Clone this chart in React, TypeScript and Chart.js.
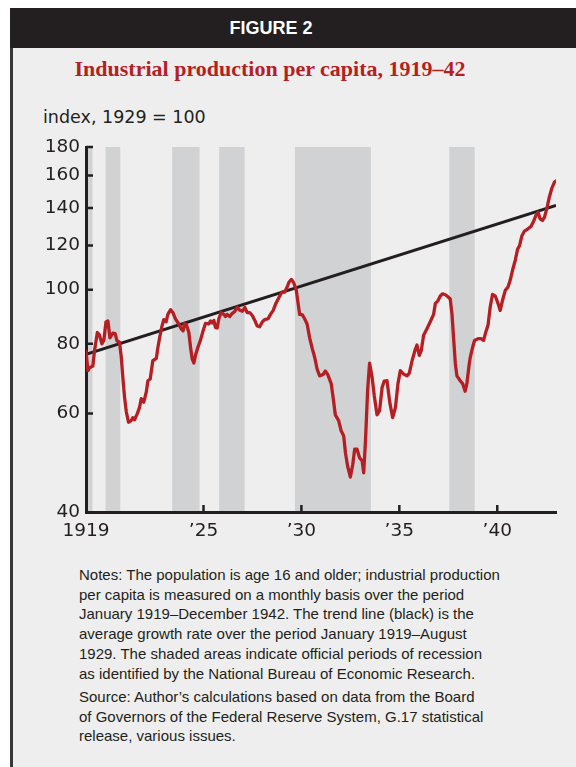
import React, { useEffect, useRef } from 'react';
import { Chart, registerables } from 'chart.js';

Chart.register(...registerables);

// Monthly-ish readings of the red series (decimal year, index 1929 = 100)
const years = [
  1919.0, 1919.1, 1919.18, 1919.35, 1919.44, 1919.58, 1919.69, 1919.81, 1919.91,
  1920.02, 1920.12, 1920.22, 1920.37, 1920.49, 1920.58, 1920.71, 1920.8, 1920.88, 1920.97,
  1921.06, 1921.17, 1921.31, 1921.39, 1921.48, 1921.62, 1921.73, 1921.82, 1921.95,
  1922.08, 1922.16, 1922.28, 1922.41, 1922.59, 1922.67, 1922.76, 1922.87, 1922.97,
  1923.09, 1923.18, 1923.32, 1923.45, 1923.57, 1923.74, 1923.86, 1923.96,
  1924.03, 1924.13, 1924.25, 1924.34, 1924.42, 1924.51, 1924.59, 1924.71, 1924.85, 1924.98,
  1925.1, 1925.27, 1925.36, 1925.44, 1925.53, 1925.61, 1925.7, 1925.78, 1925.9,
  1926.04, 1926.12, 1926.21, 1926.34, 1926.46, 1926.58, 1926.72, 1926.85, 1926.99,
  1927.11, 1927.23, 1927.36, 1927.5, 1927.62, 1927.74, 1927.87,
  1928.01, 1928.13, 1928.3, 1928.42, 1928.56, 1928.69, 1928.86,
  1929.0, 1929.15, 1929.27, 1929.37, 1929.49, 1929.61, 1929.74, 1929.83, 1929.91,
  1930.05, 1930.17, 1930.29, 1930.42, 1930.56, 1930.68, 1930.8, 1930.93,
  1931.11, 1931.22, 1931.34, 1931.52, 1931.62, 1931.73, 1931.9,
  1932.03, 1932.16, 1932.25, 1932.36, 1932.5, 1932.62, 1932.72, 1932.84, 1932.97,
  1933.1, 1933.18, 1933.27, 1933.38, 1933.48, 1933.61, 1933.72, 1933.86, 1933.99,
  1934.12, 1934.23, 1934.37, 1934.51, 1934.66, 1934.8, 1934.93,
  1935.05, 1935.22, 1935.39, 1935.51, 1935.65, 1935.82, 1935.9,
  1936.02, 1936.12, 1936.24, 1936.41, 1936.58, 1936.75, 1936.84, 1936.97,
  1937.09, 1937.21, 1937.35, 1937.48, 1937.6, 1937.69, 1937.77, 1937.86, 1937.94,
  1938.11, 1938.23, 1938.36, 1938.45, 1938.57, 1938.62, 1938.74, 1938.84,
  1939.02, 1939.17, 1939.3, 1939.42, 1939.53, 1939.64, 1939.76, 1939.9,
  1940.04, 1940.15, 1940.27, 1940.41, 1940.55, 1940.66, 1940.78, 1940.92,
  1941.04, 1941.14, 1941.26, 1941.39, 1941.57, 1941.73, 1941.85, 1941.97,
  1942.08, 1942.19, 1942.31, 1942.41, 1942.54, 1942.65, 1942.79, 1942.92, 1942.99,
];

const values = [
  77.5, 71.6, 72.5, 73, 78, 83.8, 82.9, 80, 81.1,
  87.5, 87.9, 82, 83.6, 83.4, 81, 80.5, 75.8, 69.7, 64.1,
  60.4, 57.9, 58.3, 59.0, 58.5, 60.0, 61.5, 63.8, 62.9,
  65.6, 68.7, 69.2, 74.6, 75.3, 78.8, 82, 85.8, 88.4,
  87.6, 90.3, 92.1, 90.8, 88.6, 86.8, 85.1, 84.4,
  87, 86.4, 83.9, 78.8, 75.2, 73.9, 76.3, 78.8, 81.3, 84.4,
  87, 86.8, 87.9, 87.2, 88.1, 85.6, 85.4, 88.6, 91,
  90.3, 89.5, 90.3, 89.5, 90.6, 91.3, 92.9, 91.9, 91.5,
  92.9, 91.0, 91, 89.8, 88.1, 86.1, 85.8,
  87.6, 88.4, 88.7, 90.3, 91.8, 94.4, 96.9,
  99, 99, 101.1, 103.2, 104.3, 102.8, 99.7, 94.5, 90.3,
  90.1, 88.6, 86.8, 82, 78.3, 75.6, 72.1, 70.1,
  70.5, 71.5, 70.5, 67.9, 64.1, 59.7, 58.3,
  55.9, 54.7, 51, 48.3, 46.2, 48.6, 51.8, 51.8, 50,
  49.4, 47.0, 53.5, 66, 73.9, 69.7, 64.6, 59.7, 60.7,
  66.8, 68.6, 68.7, 62.9, 59, 61.5, 67.9,
  71.6, 70.6, 70.1, 70.9, 74.6, 78.3, 79.6,
  76.3, 77.8, 82.9, 85.1, 87.6, 90.3, 94.5, 95.5,
  97.4, 98.3, 97.9, 97.1, 96.2, 90.3, 82, 73.7, 70.1,
  68.7, 67.9, 65.8, 67.9, 73.7, 75.6, 78.8, 81.1,
  81.7, 81.7, 81.1, 84.1, 86.4, 93.1, 98.1, 97.4,
  94.5, 91.8, 95.7, 99.7, 101.1, 103.9, 108.3, 112.9,
  118.2, 119.9, 124.9, 127.3, 128.5, 129.8, 132.4, 135.6,
  137.5, 133.9, 133, 134.7, 140.1, 146, 152, 155.8, 156.4,
];

const trendYears = [1919, 1943];
const trendValues = [76.6, 141.5];

const recessionStarts = [1919.0, 1920.0, 1923.4, 1925.8, 1929.67, 1937.55];
const recessionEnds = [1919.33, 1920.75, 1924.8, 1927.1, 1933.55, 1938.85];

const yTickValues = [40, 60, 80, 100, 120, 140, 160, 180];
const xTickValues = [1919, 1925, 1930, 1935, 1940];
const xTickLabels = ['1919', '\u201925', '\u201930', '\u201935', '\u201940'];

const noteLines = [
  'Notes: The population is age 16 and older; industrial production',
  'per capita is measured on a monthly basis over the period',
  'January 1919\u2013December 1942. The trend line (black) is the',
  'average growth rate over the period January 1919\u2013August',
  '1929. The shaded areas indicate official periods of recession',
  'as identified by the National Bureau of Economic Research.',
];
const sourceLines = [
  'Source: Author\u2019s calculations based on data from the Board',
  'of Governors of the Federal Reserve System, G.17 statistical',
  'release, various issues.',
];

const INK = '#231f20';
const RED = '#b51f24';
const SHADE = '#d1d2d4';
const PANEL = '#eeeeee';

const recessionPlugin = {
  id: 'recessions',
  beforeDraw(chart: any) {
    const { ctx, chartArea, scales } = chart;
    const xs = scales.x;
    ctx.save();
    ctx.fillStyle = SHADE;
    for (let i = 0; i < recessionStarts.length; i++) {
      const a = xs.getPixelForValue(recessionStarts[i]);
      const b = xs.getPixelForValue(recessionEnds[i]);
      ctx.fillRect(a, chartArea.top, b - a, chartArea.bottom - chartArea.top);
    }
    ctx.restore();
  },
};

const innerTicksPlugin = {
  id: 'innerTicks',
  afterDraw(chart: any) {
    const { ctx, chartArea, scales } = chart;
    ctx.save();
    ctx.strokeStyle = INK;
    ctx.lineWidth = 2.5;
    ctx.beginPath();
    for (const v of yTickValues.slice(1)) {
      const py = scales.y.getPixelForValue(v);
      ctx.moveTo(chartArea.left, py);
      ctx.lineTo(chartArea.left + 7, py);
    }
    for (const v of xTickValues.slice(1)) {
      const px = scales.x.getPixelForValue(v);
      ctx.moveTo(px, chartArea.bottom);
      ctx.lineTo(px, chartArea.bottom - 7);
    }
    ctx.stroke();
    ctx.restore();
  },
};

export default function App() {
  const canvasRef = useRef<HTMLCanvasElement | null>(null);

  useEffect(() => {
    const canvas = canvasRef.current;
    if (!canvas) return;
    const chart = new Chart(canvas, {
      type: 'line',
      data: {
        datasets: [
          {
            label: 'Industrial production per capita',
            data: years.map((x, i) => ({ x, y: values[i] })),
            borderColor: RED,
            borderWidth: 3.3,
            pointRadius: 0,
            tension: 0,
            borderJoinStyle: 'round',
            borderCapStyle: 'round',
          },
          {
            label: 'Trend',
            data: trendYears.map((x, i) => ({ x, y: trendValues[i] })),
            borderColor: INK,
            borderWidth: 3,
            pointRadius: 0,
            tension: 0,
          },
        ],
      },
      options: {
        responsive: false,
        animation: false,
        devicePixelRatio: 1,
        layout: { padding: { left: 26, top: 147, right: 20, bottom: 8 } },
        plugins: { legend: { display: false }, tooltip: { enabled: false } },
        scales: {
          x: {
            type: 'linear',
            min: 1919,
            max: 1943,
            afterBuildTicks: (scale: any) => {
              scale.ticks = xTickValues.map((v) => ({ value: v }));
            },
            afterFit: (scale: any) => {
              scale.height = 40;
            },
            grid: { display: false, drawTicks: false },
            border: { display: true, color: INK, width: 3 },
            ticks: {
              autoSkip: false,
              maxRotation: 0,
              padding: 8,
              color: INK,
              font: { family: 'DejaVu Sans', size: 18.5 },
              callback: (v: any) => {
                const i = xTickValues.indexOf(Number(v));
                return i >= 0 ? xTickLabels[i] : '';
              },
            },
          },
          y: {
            type: 'logarithmic',
            min: 40,
            max: 180,
            afterBuildTicks: (scale: any) => {
              scale.ticks = yTickValues.map((v) => ({ value: v }));
            },
            afterFit: (scale: any) => {
              scale.width = 60;
            },
            grid: { display: false, drawTicks: false },
            border: { display: true, color: INK, width: 3 },
            ticks: {
              autoSkip: false,
              padding: 6,
              color: INK,
              font: { family: 'DejaVu Sans', size: 18.5 },
              callback: (v: any) => String(v),
            },
          },
        },
      },
      plugins: [recessionPlugin, innerTicksPlugin],
    } as any);
    return () => chart.destroy();
  }, []);

  return (
    <div style={{ position: 'absolute', left: 0, top: 0, width: 576, height: 767, background: '#ffffff', overflow: 'hidden' }}>
      <div style={{ position: 'absolute', left: 10, top: 48, width: 566, height: 719, background: PANEL }} />
      <div style={{ position: 'absolute', left: 10, top: 8, width: 3, height: 759, background: '#3a3839' }} />
      <div style={{ position: 'absolute', left: 10, top: 8, width: 566, height: 40, background: INK }} />
      <div
        style={{
          position: 'absolute', left: 171, top: 18, width: 200, textAlign: 'center',
          color: '#ffffff', fontFamily: 'Liberation Sans, Arial, sans-serif', fontWeight: 'bold',
          fontSize: 18, lineHeight: '20px',
        }}
      >
        FIGURE 2
      </div>
      <div
        style={{
          position: 'absolute', left: 40, top: 58, width: 460, textAlign: 'center',
          color: RED, fontFamily: 'Liberation Serif, Times New Roman, serif', fontWeight: 'bold',
          fontSize: 22, lineHeight: '22px', whiteSpace: 'nowrap',
        }}
      >
        Industrial production per capita, 1919–42
      </div>
      <div
        style={{
          position: 'absolute', left: 43, top: 109, color: INK,
          fontFamily: 'DejaVu Sans, sans-serif', fontSize: 17.5, lineHeight: '17.5px', whiteSpace: 'nowrap',
        }}
      >
        index, 1929 = 100
      </div>
      <canvas
        ref={canvasRef}
        width={576}
        height={560}
        style={{ position: 'absolute', left: 0, top: 0, width: 576, height: 560 }}
      />
      <div
        style={{
          position: 'absolute', left: 79, top: 565, color: INK,
          fontFamily: 'Liberation Sans, Arial, sans-serif', fontSize: 15, lineHeight: '19.7px', whiteSpace: 'nowrap',
        }}
      >
        {noteLines.map((l, i) => (
          <div key={'n' + i}>{l}</div>
        ))}
        <div style={{ height: 3.6 }} />
        {sourceLines.map((l, i) => (
          <div key={'s' + i}>{l}</div>
        ))}
      </div>
    </div>
  );
}
